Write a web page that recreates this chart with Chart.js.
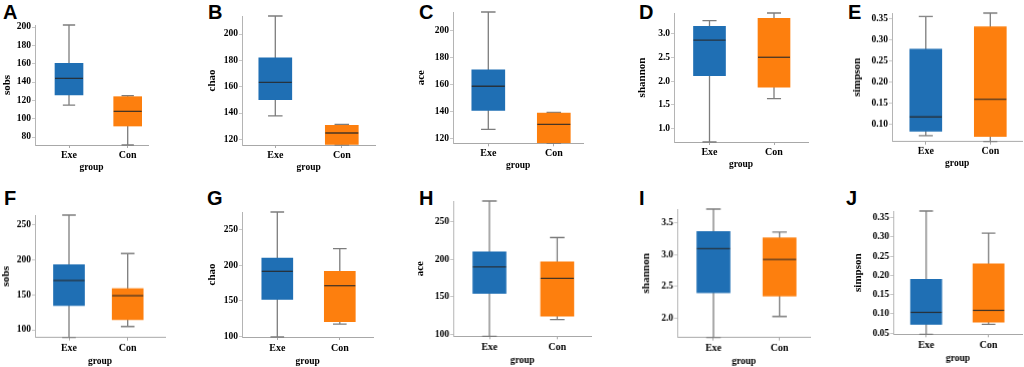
<!DOCTYPE html>
<html>
<head>
<meta charset="utf-8">
<script src="https://cdn.jsdelivr.net/npm/chart.js@4"></script>
<style>
  body { margin: 0; background: #fff; width: 1024px; height: 367px; overflow: hidden; position: relative; }
  .panel { position: absolute; }
  .tag { position: absolute; font: bold 20px "Liberation Sans", Arial, sans-serif; line-height: 20px; color: #000; }
</style>
</head>
<body>
<script>
var groups = ["Exe", "Con"];
var titles = ["sobs", "chao", "ace", "shannon", "simpson"];

// each box: [min, q1, median, q3, max]
var aExe = [114.9, 125.8, 144, 160.4, 202.2];
var aCon = [71.3, 92, 108, 124, 125];
var bExe = [137.8, 150.2, 163.2, 182, 213.7];
var bCon = [115.7, 116.2, 124.8, 130.7, 131.4];
var cExe = [127.1, 141.1, 158.8, 171, 213.5];
var cCon = [116.8, 117.1, 130.8, 139.1, 139.5];
var dExe = [0.72, 2.115, 2.86, 3.15, 3.27];
var dCon = [1.63, 1.87, 2.5, 3.32, 3.43];
var eExe = [0.0737, 0.084, 0.118, 0.278, 0.3555];
var eCon = [0.0598, 0.0716, 0.16, 0.331, 0.3635];
var fExe = [89, 134.4, 170.2, 192.7, 263.3];
var fCon = [104.7, 114.3, 148.5, 158.6, 208.5];
var gExe = [99.1, 152, 191.4, 210, 274.8];
var gCon = [117.3, 120.5, 171.2, 191.5, 223.3];
var hExe = [97, 154.4, 190, 210, 278];
var hCon = [119.3, 123.8, 174.4, 196.7, 229.2];
var iExe = [1.7, 2.4, 3.09, 3.358, 3.71];
var iCon = [2.03, 2.35, 2.92, 3.26, 3.35];
var jExe = [0.0468, 0.0724, 0.1036, 0.1895, 0.367];
var jCon = [0.0724, 0.0784, 0.1088, 0.2298, 0.3095];

var ticksSobsTop = ["80", "100", "120", "140", "160", "180", "200"];
var ticksChaoTop = ["120", "140", "160", "180", "200"];
var ticksAceTop = ["120", "140", "160", "180", "200"];
var ticksShannonTop = ["1.0", "1.5", "2.0", "2.5", "3.0"];
var ticksSimpsonTop = ["0.10", "0.15", "0.20", "0.25", "0.30", "0.35"];
var ticksCountBottom = ["100", "150", "200", "250"];
var ticksShannonBottom = ["2.0", "2.5", "3.0", "3.5"];
var ticksSimpsonBottom = ["0.05", "0.10", "0.15", "0.20", "0.25", "0.30", "0.35"];

var colors = ["#1f6fb4", "#fd7f0e"];
var serif = "'Liberation Serif', 'Times New Roman', serif";

// layout: L = y axis x, T/B = pixel rows of the data range, R = x axis end,
// e/c = centres of the two boxes, w = box width, tx = y title offset
var panels = [
  { tag: "A", t: 0, exe: aExe, con: aCon, ticks: ticksSobsTop, L: 35, T: 25, B: 145, R: 148, e: 69, c: 127.7, w: 28, tx: 27.7, row: 0, tagX: 3 },
  { tag: "B", t: 1, exe: bExe, con: bCon, ticks: ticksChaoTop, L: 241.7, T: 16, B: 145, R: 375, e: 275, c: 341.5, w: 33, tx: 30, row: 0, tagX: 208 },
  { tag: "C", t: 2, exe: cExe, con: cCon, ticks: ticksAceTop, L: 452.7, T: 11.7, B: 143, R: 583, e: 488, c: 553.5, w: 33, tx: 32, row: 0, tagX: 419 },
  { tag: "D", t: 3, exe: dExe, con: dCon, ticks: ticksShannonTop, L: 674, T: 13.3, B: 142.3, R: 808, e: 709.5, c: 774, w: 32, tx: 32.3, row: 0, tagX: 639 },
  { tag: "E", t: 4, exe: eExe, con: eCon, ticks: ticksSimpsonTop, L: 891.7, T: 13.3, B: 141, R: 1022, e: 925.5, c: 990, w: 32, tx: 35, row: 0, tagX: 848 },
  { tag: "F", t: 0, exe: fExe, con: fCon, ticks: ticksCountBottom, L: 35, T: 215, B: 336.7, R: 165, e: 69, c: 127.7, w: 31, tx: 29, row: 1, tagX: 4 },
  { tag: "G", t: 1, exe: gExe, con: gCon, ticks: ticksCountBottom, L: 241.7, T: 211.7, B: 336.7, R: 373, e: 277, c: 339.5, w: 31, tx: 30, row: 1, tagX: 207 },
  { tag: "H", t: 2, exe: hExe, con: hCon, ticks: ticksCountBottom, L: 453.3, T: 200.7, B: 336, R: 591, e: 489.3, c: 556.7, w: 33, tx: 33.3, row: 1, tagX: 419 },
  { tag: "I", t: 3, exe: iExe, con: iCon, ticks: ticksShannonBottom, L: 677.3, T: 209.3, B: 337, R: 810, e: 713.3, c: 779, w: 33, tx: 30.6, row: 1, tagX: 639 },
  { tag: "J", t: 4, exe: jExe, con: jCon, ticks: ticksSimpsonBottom, L: 893.3, T: 210.7, B: 334, R: 1022, e: 926, c: 988, w: 31, tx: 35, row: 1, tagX: 846 }
];

var whiskers = {
  id: "whiskers",
  beforeDatasetsDraw: function (chart) {
    var ctx = chart.ctx, y = chart.scales.y;
    var ds = chart.data.datasets[0];
    ctx.save();
    ctx.strokeStyle = "#7d7d7d";
    ctx.lineWidth = 1.3;
    chart.getDatasetMeta(0).data.forEach(function (bar, i) {
      var st = ds.stats[i], x = bar.x, cap = bar.width * 0.22;
      var top = y.getPixelForValue(st[4]), bot = y.getPixelForValue(st[0]);
      ctx.beginPath();
      ctx.moveTo(x, top); ctx.lineTo(x, bot);
      ctx.moveTo(x - cap, top); ctx.lineTo(x + cap, top);
      ctx.moveTo(x - cap, bot); ctx.lineTo(x + cap, bot);
      ctx.stroke();
    });
    ctx.restore();
  },
  afterDatasetsDraw: function (chart) {
    var ctx = chart.ctx, y = chart.scales.y;
    var ds = chart.data.datasets[0];
    ctx.save();
    ctx.strokeStyle = "rgba(40,40,40,0.85)";
    ctx.lineWidth = 1.3;
    chart.getDatasetMeta(0).data.forEach(function (bar, i) {
      var m = y.getPixelForValue(ds.stats[i][2]);
      ctx.beginPath();
      ctx.moveTo(bar.x - bar.width / 2, m);
      ctx.lineTo(bar.x + bar.width / 2, m);
      ctx.stroke();
    });
    ctx.restore();
  }
};

panels.forEach(function (p) {
  var yW = 42, padTop = 8, xH = p.row ? 32 : 30;
  var left = p.L - yW;

  var tag = document.createElement("div");
  tag.className = "tag";
  tag.textContent = p.tag;
  tag.style.left = p.tagX + "px";
  tag.style.top = (p.row ? 188.4 : 2.4) + "px";
  document.body.appendChild(tag);

  var div = document.createElement("div");
  div.className = "panel";
  div.style.left = left + "px";
  div.style.top = (p.T - padTop) + "px";
  div.style.width = (p.R + 3 - left) + "px";
  div.style.height = (p.B - p.T + padTop + xH) + "px";
  var canvas = document.createElement("canvas");
  div.appendChild(canvas);
  document.body.appendChild(div);

  var s = p.c - p.e;
  var xMin = -(p.e - p.L) / s, xMax = 1 + (p.R - p.c) / s;
  var lo = Math.min(p.exe[0], p.con[0]), hi = Math.max(p.exe[4], p.con[4]);
  var tl = 11 * 1.2 / 2;

  new Chart(canvas, {
    type: "bar",
    data: {
      datasets: [{
        data: [{ x: 0, y: [p.exe[1], p.exe[3]] }, { x: 1, y: [p.con[1], p.con[3]] }],
        backgroundColor: colors,
        borderWidth: 0,
        barThickness: p.w,
        stats: [p.exe, p.con]
      }]
    },
    plugins: [whiskers],
    options: {
      responsive: true,
      maintainAspectRatio: false,
      animation: false,
      layout: { padding: { left: 0, top: padTop, right: 3, bottom: 0 } },
      plugins: { legend: { display: false }, tooltip: { enabled: false } },
      scales: {
        x: {
          type: "linear",
          min: xMin,
          max: xMax,
          offset: false,
          afterBuildTicks: function (sc) { sc.ticks = [{ value: 0 }, { value: 1 }]; },
          afterFit: function (sc) { sc.height = xH; },
          ticks: {
            autoSkip: false,
            maxRotation: 0,
            padding: p.row ? 2 : 1,
            color: "#000",
            font: { family: serif, size: 10, weight: "bold" },
            callback: function (v) { return groups[v]; }
          },
          grid: { offset: false, drawOnChartArea: false, tickLength: 3, color: "#a8a8a8" },
          border: { color: "#a8a8a8" },
          title: {
            display: true,
            text: "group",
            color: "#000",
            padding: { top: 0, bottom: 2 },
            font: { family: serif, size: 9.5, weight: "bold" }
          }
        },
        y: {
          min: lo,
          max: hi,
          afterBuildTicks: function (sc) {
            sc.ticks = p.ticks.map(function (t) { return { value: parseFloat(t) }; });
          },
          afterFit: function (sc) { sc.width = yW; },
          ticks: {
            autoSkip: false,
            padding: 1,
            color: "#000",
            font: { family: serif, size: 9.5, weight: "bold" },
            callback: function (v) {
              return p.ticks.find(function (t) { return Math.abs(parseFloat(t) - v) < 1e-9; });
            }
          },
          grid: { drawOnChartArea: false, tickLength: 3, color: "#c8c8c8" },
          border: { color: "#b4b4b4" },
          title: {
            display: true,
            text: titles[p.t],
            color: "#000",
            padding: { top: Math.max(0, yW - p.tx - tl), bottom: 0 },
            font: { family: serif, size: 11, weight: "bold" }
          }
        }
      }
    }
  });
});
</script>
</body>
</html>
